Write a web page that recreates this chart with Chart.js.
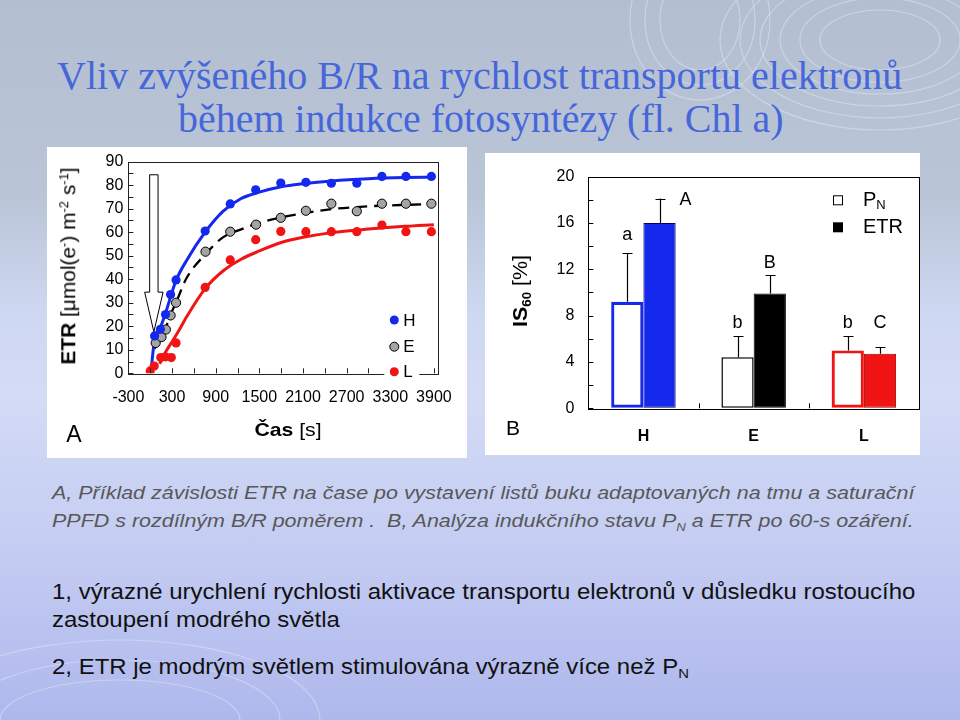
<!DOCTYPE html>
<html><head><meta charset="utf-8">
<script src="https://cdn.jsdelivr.net/npm/chart.js@4.4.1/dist/chart.umd.min.js"></script>
<style>
html,body{margin:0;padding:0;}
body{width:960px;height:720px;position:relative;overflow:hidden;
 background:linear-gradient(180deg,#b3bfd0 0%,#bac6d8 28%,#cfd8f2 44%,#d3dbf6 55%,#c3cbf2 78%,#aeb8ec 100%);
 font-family:'Liberation Sans',Arial,sans-serif;}
.txt{position:absolute;white-space:nowrap;line-height:1;}
.box{position:absolute;background:#fff;}
canvas{position:absolute;}
sup{font-size:0.62em;vertical-align:0.55em;line-height:0;}
sub{font-size:0.62em;vertical-align:-0.3em;line-height:0;}
#deco{position:absolute;left:0;top:0;}
</style>
</head><body>
<svg id="deco" width="960" height="720">
 <g fill="none" stroke="#e6ecf6" stroke-opacity="0.45" stroke-width="1.2">
  <ellipse cx="880" cy="40" rx="60" ry="30"/><ellipse cx="880" cy="40" rx="80" ry="42"/><ellipse cx="880" cy="40" rx="100" ry="54"/>
  <ellipse cx="880" cy="40" rx="120" ry="66"/><ellipse cx="880" cy="40" rx="140" ry="78"/><ellipse cx="880" cy="40" rx="160" ry="90"/>
  <ellipse cx="700" cy="20" rx="40" ry="50"/><ellipse cx="700" cy="20" rx="55" ry="65"/><ellipse cx="700" cy="20" rx="70" ry="80"/>
  <ellipse cx="120" cy="720" rx="120" ry="40"/><ellipse cx="120" cy="720" rx="160" ry="60"/><ellipse cx="120" cy="720" rx="200" ry="80"/>
 </g>
</svg>

<div id="t1" class="txt" style="left:57px;top:56px;font-family:'Liberation Serif',serif;font-size:40px;color:#4666da;">Vliv zvýšeného B/R na rychlost transportu elektronů</div>
<div id="t2" class="txt" style="left:178px;top:99px;font-family:'Liberation Serif',serif;font-size:40px;color:#4666da;">během indukce fotosyntézy (fl. Chl a)</div>

<div class="box" style="left:47px;top:147px;width:420px;height:311px;"></div>
<div class="box" style="left:485px;top:153px;width:435px;height:302px;"></div>
<canvas id="cA" width="420" height="311" style="left:47px;top:147px;width:420px;height:311px;"></canvas>
<canvas id="cB" width="435" height="302" style="left:485px;top:153px;width:435px;height:302px;"></canvas>

<div id="yA" class="txt" style="left:69px;top:266px;font-size:19.5px;color:#000;"><b>ETR</b> [μmol(e<sup>-</sup>) m<sup>-2</sup> s<sup>-1</sup>]</div>
<div id="xA" class="txt" style="left:288px;top:429px;font-size:19px;color:#000;"><b>Čas</b> [s]</div>
<div id="pA" class="txt" style="left:74px;top:434px;font-size:23px;color:#000;">A</div>
<div id="yB" class="txt" style="left:520px;top:291px;font-size:20px;color:#000;"><b>IS<sub>60</sub></b> [%]</div>
<div id="pB" class="txt" style="left:513px;top:427px;font-size:21px;color:#000;">B</div>

<div id="c1" class="txt" style="left:52px;top:483px;font-size:19px;font-style:italic;color:#585858;">A, Příklad závislosti ETR na čase po vystavení listů buku adaptovaných na tmu a saturační</div>
<div id="c2" class="txt" style="left:52px;top:511px;font-size:19px;font-style:italic;color:#585858;">PPFD s rozdílným B/R poměrem .&nbsp; B, Analýza indukčního stavu P<sub>N</sub> a ETR po 60-s ozáření.</div>

<div id="b1" class="txt" style="left:52px;top:582px;font-size:21.5px;color:#111;">1, výrazné urychlení rychlosti aktivace transportu elektronů v důsledku rostoucího</div>
<div id="b2" class="txt" style="left:52px;top:610px;font-size:21.5px;color:#111;">zastoupení modrého světla</div>
<div id="b3" class="txt" style="left:52px;top:657px;font-size:21.5px;color:#111;">2, ETR je modrým světlem stimulována výrazně více než P<sub>N</sub></div>

<script>
// ---------- DATA: panel A (ETR vs time) ----------
const blueTime = [60,140,210,280,355,755,1100,1450,1795,2140,2490,2840,3185,3515,3865];
const blueETR  = [15.9,18.7,25,33.5,39.7,60.5,72,78,80.9,81.2,80.8,80.8,83.7,83.7,83.7];
const grayTime = [75,155,215,280,355,760,1100,1455,1795,2140,2490,2840,3185,3515,3865];
const grayETR  = [12.9,15.4,18.6,24.6,30,51.7,60.2,63.2,66.1,69.1,72.1,68.9,72.1,72.1,72.1];
const redTime  = [0,55,145,210,290,355,755,1100,1450,1795,2140,2490,2840,3185,3515,3865];
const redETR   = [1,3.1,6.7,7,6.7,12.9,36.5,48.2,56.8,60.3,60.2,60.2,60.2,63,60.2,60.2];
// fitted curves
const blueFitTime = [10,60,140,210,280,355,500,755,1000,1250,1500,1800,2100,2500,3000,3500,3900];
const blueFitETR  = [0.5,14.5,19.5,25.5,32.5,39.5,48,60,68.8,74.3,77,79.3,80.6,81.8,82.7,83.2,83.4];
const grayFitTime = [60,150,215,280,360,500,755,1000,1250,1500,1800,2100,2500,3000,3500,3900];
const grayFitETR  = [10.5,15,19.5,25,30.5,40.5,50.5,57.8,61.2,64,66.3,68,69.8,71,71.6,71.9];
const redFitTime  = [130,210,300,400,500,755,1000,1250,1500,1800,2100,2500,3000,3500,3900];
const redFitETR   = [4,9,13.4,18.5,24,36,43.5,48.5,52,55.6,57.8,59.8,61.3,62.5,63.2];
const legendA = ['H','E','L'];
const timeTickLabels = ['-300','300','900','1500','2100','2700','3300','3900'];
const etrTickLabels = ['0','10','20','30','40','50','60','70','80','90'];

// ---------- DATA: panel B (IS60) ----------
const groups = ['H','E','L'];
const pnIS  = [9.2,4.4,5.0];
const pnSD  = [4.2,1.8,1.2];
const etrIS = [16.0,9.9,4.7];
const etrSD = [2.1,1.6,0.6];
const pnLetters  = ['a','b','b'];
const etrLetters = ['A','B','C'];
const isTickLabels = ['0','4','8','12','16','20'];

const BLUE='#1428ee', RED='#f01414', GRAY='#a4a4a4';
Chart.defaults.font.family="'Liberation Sans', Arial, sans-serif";
Chart.defaults.color='#000';
const pts=(xs,ys)=>xs.map((x,i)=>({x,y:ys[i]}));

// ---------- Chart A ----------
const arrowPlugin={id:'arrow',beforeDatasetsDraw(c){
  const xs=c.scales.x, ys=c.scales.y, ctx=c.ctx;
  const cx=xs.getPixelForValue(50), tip=ys.getPixelForValue(17.6), hb=ys.getPixelForValue(34.5), top=ys.getPixelForValue(84.4);
  ctx.save();ctx.beginPath();
  ctx.moveTo(cx-4.2,top);ctx.lineTo(cx+4.2,top);ctx.lineTo(cx+4.2,hb);ctx.lineTo(cx+9.2,hb);
  ctx.lineTo(cx,tip);ctx.lineTo(cx-9.2,hb);ctx.lineTo(cx-4.2,hb);ctx.closePath();
  ctx.fillStyle='#fff';ctx.fill();ctx.strokeStyle='#000';ctx.lineWidth=1;ctx.stroke();ctx.restore();
}};
const frameA={id:'frameA',afterDraw(c){
  const ctx=c.ctx, a=c.chartArea, xs=c.scales.x, ys=c.scales.y;
  ctx.save();ctx.strokeStyle='#222';ctx.lineWidth=1;
  ctx.strokeRect(Math.round(a.left)+0.5,Math.round(a.top)+0.5,Math.round(a.right-a.left),Math.round(a.bottom-a.top));
  ctx.beginPath();
  xs.ticks.forEach(t=>{const p=Math.round(xs.getPixelForValue(t.value))+0.5;ctx.moveTo(p,a.bottom);ctx.lineTo(p,a.bottom-5);});
  ys.ticks.forEach(t=>{const p=Math.round(ys.getPixelForValue(t.value))+0.5;ctx.moveTo(a.left,p);ctx.lineTo(a.left+5,p);});
  ctx.stroke();
  // legend
  ctx.fillStyle='#fff';ctx.fillRect(a.right-54,a.bottom-66,35,70);
  const cols=[BLUE,GRAY,RED], offs=[-53.3,-26.6,-1.6];
  ctx.font="17px 'Liberation Sans', Arial";ctx.textBaseline='middle';
  legendA.forEach((l,i)=>{
    ctx.beginPath();ctx.arc(a.right-44,a.bottom+offs[i],4.5,0,Math.PI*2);ctx.fillStyle=cols[i];ctx.fill();
    if(i===1){ctx.strokeStyle='#000';ctx.lineWidth=1;ctx.stroke();}
    ctx.fillStyle='#000';ctx.fillText(l,a.right-35,a.bottom+offs[i]+1);
  });
  ctx.restore();
}};
new Chart(document.getElementById('cA'),{
  type:'scatter',
  data:{datasets:[
    {label:'H',data:pts(blueTime,blueETR),backgroundColor:BLUE,borderColor:BLUE,pointRadius:4.6,borderWidth:0},
    {label:'E',data:pts(grayTime,grayETR),backgroundColor:GRAY,borderColor:'#000',pointRadius:4.6,borderWidth:1},
    {label:'L',data:pts(redTime,redETR),backgroundColor:RED,borderColor:RED,pointRadius:4.6,borderWidth:0},
    {label:'H fit',data:pts(blueFitTime,blueFitETR),showLine:true,pointRadius:0,borderColor:BLUE,borderWidth:3,cubicInterpolationMode:'monotone'},
    {label:'E fit',data:pts(grayFitTime,grayFitETR),showLine:true,pointRadius:0,borderColor:'#000',borderWidth:2.3,borderDash:[11,7],cubicInterpolationMode:'monotone'},
    {label:'L fit',data:pts(redFitTime,redFitETR),showLine:true,pointRadius:0,borderColor:RED,borderWidth:3,cubicInterpolationMode:'monotone'}
  ]},
  options:{responsive:false,animation:false,devicePixelRatio:1,
    layout:{padding:{top:13,right:20,left:0,bottom:0}},
    plugins:{legend:{display:false},tooltip:{enabled:false}},
    scales:{
      x:{type:'linear',min:-300,max:3960,
        afterBuildTicks:s=>{const t=[];for(let v=-300;v<=3900;v+=300)t.push({value:v});s.ticks=t;},
        ticks:{font:{size:16},padding:15,maxRotation:0,autoSkip:false,callback:v=>timeTickLabels.includes(String(v))?String(v):''},
        grid:{display:true,drawOnChartArea:false,drawTicks:false},border:{display:false},
        afterFit:s=>{s.height=84.7;}},
      y:{min:0,max:90,
        afterBuildTicks:s=>{const t=[];for(let v=0;v<=90;v+=5)t.push({value:v});s.ticks=t;},
        ticks:{font:{size:16},padding:5,autoSkip:false,callback:v=>etrTickLabels.includes(String(v))?String(v):''},
        grid:{display:true,drawOnChartArea:false,drawTicks:false},border:{display:false},
        afterFit:s=>{s.width=81.4;}}
    }},
  plugins:[arrowPlugin,frameA]
});

// ---------- Chart B ----------
const sigLabels=[
  {ds:0,i:0,dx:0,dy:-18},{ds:1,i:0,dx:26,dy:1},
  {ds:0,i:1,dx:0,dy:-13},{ds:1,i:1,dx:0,dy:-12},
  {ds:0,i:2,dx:0,dy:-13},{ds:1,i:2,dx:0,dy:-24}
];
const frameB={id:'frameB',afterDraw(c){
  const ctx=c.ctx,a=c.chartArea,xs=c.scales.x,ys=c.scales.y;
  ctx.save();ctx.strokeStyle='#000';ctx.lineWidth=1;
  ctx.strokeRect(Math.round(a.left)+0.5,Math.round(a.top)+0.5,Math.round(a.right-a.left),Math.round(a.bottom-a.top));
  ctx.beginPath();
  ys.ticks.forEach(t=>{const p=Math.round(ys.getPixelForValue(t.value))+0.5;ctx.moveTo(a.left,p);ctx.lineTo(a.left+5,p);});
  for(let i=0;i<groups.length-1;i++){const p=Math.round((xs.getPixelForValue(i)+xs.getPixelForValue(i+1))/2)+0.5;ctx.moveTo(p,a.bottom);ctx.lineTo(p,a.bottom-5);}
  ctx.stroke();
  // error bars
  const sds=[pnSD,etrSD], vals=[pnIS,etrIS], letters=[pnLetters,etrLetters];
  ctx.lineWidth=1.2;
  const tops=[[],[]];
  [0,1].forEach(d=>{
    c.getDatasetMeta(d).data.forEach((el,i)=>{
      const x=Math.round(el.x)+0.5, y0=ys.getPixelForValue(vals[d][i]), y1=ys.getPixelForValue(vals[d][i]+sds[d][i]);
      tops[d][i]={x:el.x,y:y1};
      ctx.beginPath();ctx.moveTo(x,y0);ctx.lineTo(x,y1);ctx.moveTo(x-5,Math.round(y1)+0.5);ctx.lineTo(x+5,Math.round(y1)+0.5);ctx.stroke();
    });
  });
  ctx.font="18px 'Liberation Sans', Arial";ctx.fillStyle='#000';ctx.textAlign='center';ctx.textBaseline='middle';
  sigLabels.forEach(s=>{const t=tops[s.ds][s.i];ctx.fillText(letters[s.ds][s.i],t.x+s.dx,t.y+s.dy);});
  // legend
  const lx=a.right-81, ly=[a.top+23.7,a.top+50.7];
  ctx.fillStyle='#fff';ctx.fillRect(lx-5,ly[0]-5,10,10);ctx.lineWidth=1;ctx.strokeRect(lx-4.5,ly[0]-4.5,9,9);
  ctx.fillStyle='#000';ctx.fillRect(lx-5,ly[1]-5,10,10);
  ctx.textAlign='left';ctx.font="20px 'Liberation Sans', Arial";
  ctx.fillText('P',a.right-56,ly[0]);
  const w=ctx.measureText('P').width;
  ctx.font="13px 'Liberation Sans', Arial";ctx.fillText('N',a.right-56+w,ly[0]+5);
  ctx.font="20px 'Liberation Sans', Arial";ctx.fillText('ETR',a.right-56,ly[1]);
  ctx.restore();
}};
new Chart(document.getElementById('cB'),{
  type:'bar',
  data:{labels:groups,datasets:[
    {label:'PN',data:pnIS,backgroundColor:'#fff',borderColor:[BLUE,'#000',RED],borderWidth:[3.2,1.5,3.2],borderSkipped:false,categoryPercentage:0.585,barPercentage:1},
    {label:'ETR',data:etrIS,backgroundColor:[BLUE,'#000',RED],borderColor:['#000060','#000','#a00000'],borderWidth:1,borderSkipped:false,categoryPercentage:0.585,barPercentage:1}
  ]},
  options:{responsive:false,animation:false,devicePixelRatio:1,
    layout:{padding:{top:16.3,right:1,left:0,bottom:0}},
    plugins:{legend:{display:false},tooltip:{enabled:false}},
    scales:{
      x:{ticks:{font:{size:16,weight:'bold'},padding:19},grid:{display:false,drawTicks:false},border:{display:false},
         afterFit:s=>{s.height=46.7;}},
      y:{min:0,max:20,
        afterBuildTicks:s=>{const t=[];for(let v=0;v<=20;v+=2)t.push({value:v});s.ticks=t;},
        ticks:{font:{size:16},padding:14,autoSkip:false,callback:v=>isTickLabels.includes(String(v))?String(v):''},
        grid:{display:true,drawOnChartArea:false,drawTicks:false},border:{display:false},
        afterFit:s=>{s.width=103.3;}}
    }},
  plugins:[frameB]
});

// ---------- text fitting ----------
function fitLeft(id,w){const e=document.getElementById(id);const s=w/e.offsetWidth;e.style.transformOrigin='0 50%';e.style.transform='scaleX('+s+')';return s;}
function scaleLeft(id,s){const e=document.getElementById(id);e.style.transformOrigin='0 50%';e.style.transform='scaleX('+s+')';}
function center(id,w,rot){const e=document.getElementById(id);const s=w?w/e.offsetWidth:1;e.style.transform='translate(-50%,-50%)'+(rot?' rotate(-90deg)':'')+' scaleX('+s+')';}
fitLeft('t1',845);fitLeft('t2',605);
const sc=fitLeft('c1',863);scaleLeft('c2',sc);
const sb=fitLeft('b1',863);scaleLeft('b2',sb);scaleLeft('b3',sb);
center('yA',197,true);center('xA',67,false);center('pA',0,false);center('yB',72,true);center('pB',0,false);
</script>
</body></html>
